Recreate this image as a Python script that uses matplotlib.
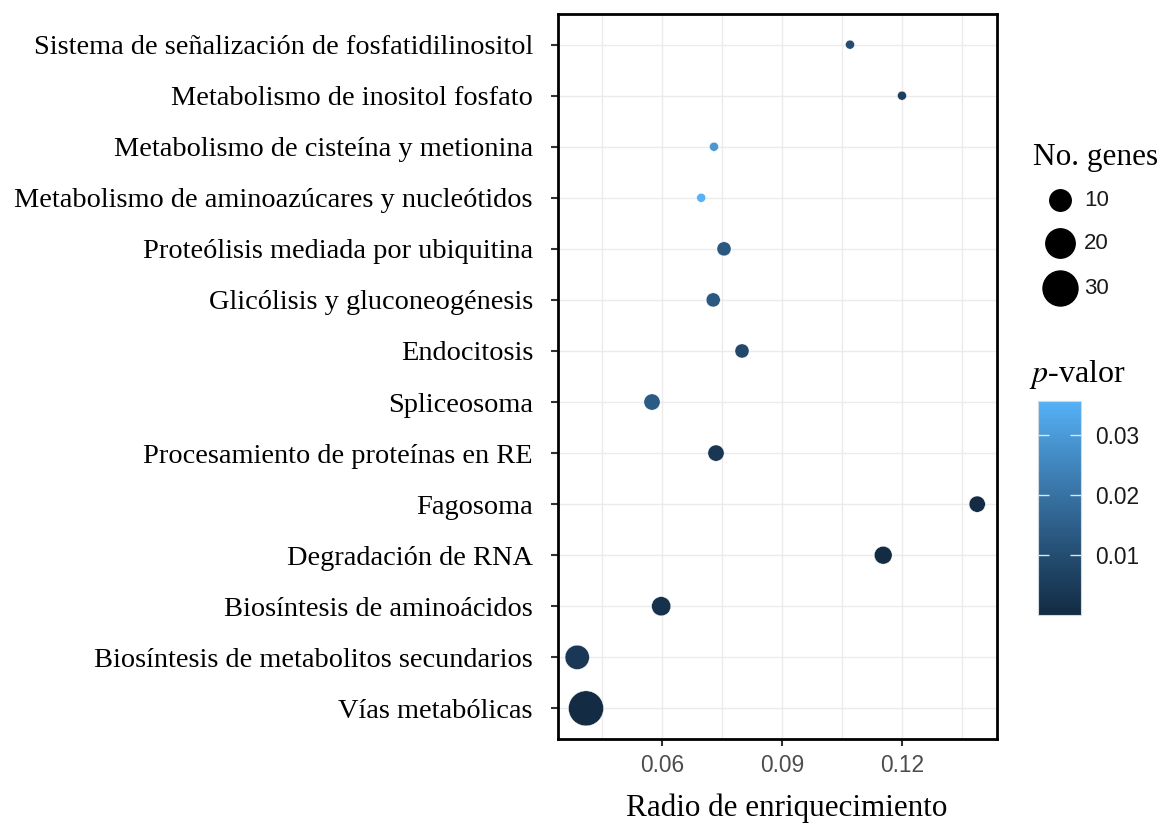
"""
Gráfico de burbujas de enriquecimiento KEGG (radio de enriquecimiento vs vía).
Salida: out.png
"""

import matplotlib
matplotlib.use("Agg")
import matplotlib.pyplot as plt
from matplotlib.colors import LinearSegmentedColormap, Normalize
from matplotlib.lines import Line2D
import matplotlib.colorbar as mcolorbar
import numpy as np

plt.rcParams["font.family"] = ["Liberation Serif", "DejaVu Serif"]
plt.rcParams["mathtext.fontset"] = "stix"

# vías, de arriba hacia abajo
PATHWAYS = [
    "Sistema de señalización de fosfatidilinositol",
    "Metabolismo de inositol fosfato",
    "Metabolismo de cisteína y metionina",
    "Metabolismo de aminoazúcares y nucleótidos",
    "Proteólisis mediada por ubiquitina",
    "Glicólisis y gluconeogénesis",
    "Endocitosis",
    "Spliceosoma",
    "Procesamiento de proteínas en RE",
    "Fagosoma",
    "Degradación de RNA",
    "Biosíntesis de aminoácidos",
    "Biosíntesis de metabolitos secundarios",
    "Vías metabólicas",
]
RICH_RATIO = [0.107, 0.120, 0.073, 0.0698, 0.0755, 0.0728, 0.080,
              0.0575, 0.0735, 0.1388, 0.1153, 0.0598, 0.0388, 0.041]
GENE_COUNT = [4, 4, 4, 4, 5, 5, 5, 6, 6, 6, 7, 8, 13, 30]
P_VALUE = [0.0097, 0.006, 0.029, 0.0356, 0.0129, 0.013, 0.009,
           0.014, 0.0037, 0.0003, 0.0002, 0.002, 0.004, 0.0001]

SIZE_BREAKS = [10, 20, 30]
P_TICKS = [0.01, 0.02, 0.03]
X_TICKS = [0.06, 0.09, 0.12]

DPI = 100
W, H = 1161, 826

# gradiente tipo ggplot (#132B43 -> #56B1F7)
cmap = LinearSegmentedColormap.from_list(
    "gg_blue",
    [(0.0, "#132B43"), (0.25, "#22496C"), (0.5, "#336A98"),
     (0.75, "#448CC6"), (1.0, "#56B1F7")],
)
norm = Normalize(vmin=min(P_VALUE), vmax=max(P_VALUE))


def diam_px(n):
    # área proporcional al número de genes (como scale_size de ggplot)
    lo, hi = min(GENE_COUNT), max(GENE_COUNT)
    return 9 + 26 * np.sqrt((np.asarray(n) - lo) / (hi - lo))


def to_pt(d):
    return d * 72 / DPI


def fx(px):
    return px / W


def fy(py):
    return 1 - py / H


fig = plt.figure(figsize=(W / DPI, H / DPI), dpi=DPI)
ax = fig.add_axes([fx(558), fy(739), 439 / W, 725 / H])

ypos = np.arange(len(PATHWAYS))[::-1] + 1
sizes = to_pt(diam_px(GENE_COUNT)) ** 2
ax.scatter(RICH_RATIO, ypos, s=sizes, c=P_VALUE, cmap=cmap, norm=norm,
           edgecolors="white", linewidths=0.3, zorder=3)

ax.set_xlim(0.034, 0.14375)
ax.set_ylim(0.4, len(PATHWAYS) + 0.6)
ax.set_xticks(X_TICKS)
ax.set_xticklabels([f"{v:g}" for v in X_TICKS], family="Liberation Sans",
                   fontsize=16.4, color="#4D4D4D")
ax.set_xticks([0.045, 0.075, 0.105, 0.135], minor=True)
ax.set_yticks(ypos)
ax.set_yticklabels(PATHWAYS, fontsize=20.4, color="black")
ax.tick_params(axis="both", which="major", length=5, width=1.5,
               color="#333333")
ax.tick_params(axis="y", which="major", pad=13)
ax.tick_params(axis="x", which="major", pad=6)
ax.tick_params(axis="x", which="minor", length=0)
ax.grid(True, which="both", color="#EBEBEB", linewidth=1, zorder=0)
ax.set_axisbelow(True)
for sp in ax.spines.values():
    sp.set_linewidth(2)
    sp.set_color("black")
ax.set_xlabel("Radio de enriquecimiento", fontsize=22.4, labelpad=14)
ax.xaxis.set_label_coords(0.522, -0.075)

# leyenda de tamaño (dibujada a mano, estilo ggplot)
fig.text(fx(1033), fy(158), "No. genes", fontsize=22.5,
         va="center", ha="left")
for n, py in zip(SIZE_BREAKS, [200, 243, 288]):
    fig.add_artist(Line2D([fx(1060)], [fy(py)], linestyle="none",
                          marker="o", color="black",
                          markersize=to_pt(diam_px(n)),
                          transform=fig.transFigure))
    fig.text(fx(1084), fy(py), str(n), family="Liberation Sans",
             fontsize=16, va="center", ha="left", color="#1A1A1A")

# barra de color
fig.text(fx(1029), fy(375), r"$p$-valor", fontsize=23,
         va="center", ha="left")
cax = fig.add_axes([fx(1038), fy(615), 43 / W, 214 / H])
cb = mcolorbar.ColorbarBase(cax, cmap=cmap, norm=norm, ticks=P_TICKS)
cb.outline.set_edgecolor("#D0D8E0")
cb.outline.set_linewidth(0.8)
cax.tick_params(axis="y", length=8, width=1, color="#DDE6EE",
                direction="in", left=True, right=True, pad=10)
cax.set_yticklabels([f"{v:g}" for v in P_TICKS], family="Liberation Sans",
                    fontsize=16.4, color="#1A1A1A")

plt.savefig("out.png", dpi=DPI)
